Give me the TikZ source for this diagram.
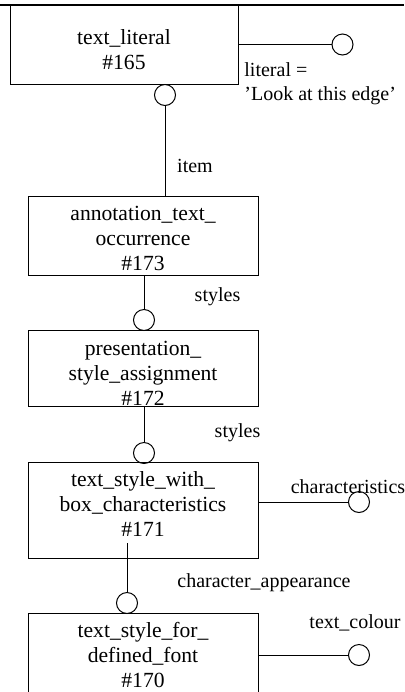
\documentclass[tikz,border=0pt]{standalone}
\usepackage{fontspec}
\setmainfont{Liberation Serif}
\usetikzlibrary{positioning}

\begin{document}
\begin{tikzpicture}[x=1pt,y=1pt,
  entity/.style={draw,line width=0.5pt,minimum width=115pt,inner ysep=0pt,align=center,font=\fontsize{10.8}{12.4}\selectfont},
  ring/.style={draw,line width=0.5pt,circle,minimum size=10.5pt,inner sep=0pt},
  role/.style={font=\fontsize{10}{12}\selectfont,inner sep=0pt},
  link/.style={line width=0.5pt}]
\useasboundingbox (0,0) rectangle (202,-346);
\draw[line width=0.8pt] (0,-2.5) -- (202,-2.5);
\node[entity,minimum width=114pt,minimum height=39.5pt,text height=24.8pt,text depth=0pt] (lit) at (62,-22.25) {text\_literal\\\#165};
\node[entity,minimum height=39.5pt,text height=34.8pt,text depth=0pt] (aot) at (71.5,-117.75) {annotation\_text\_\\occurrence\\\#173};
\node[entity,minimum height=38pt,text height=37.3pt,text depth=0pt] (psa) at (71.5,-184) {presentation\_\\style\_assignment\\\#172};
\node[entity,minimum height=48pt,text height=32.4pt,text depth=6pt] (tsw) at (71.5,-255) {text\_style\_with\_\\box\_characteristics\\\#171};
\node[entity,minimum height=48.5pt,text height=32.4pt,text depth=6.6pt] (tsf) at (71.5,-330.75) {text\_style\_for\_\\defined\_font\\\#170};
% rings
\node[ring,right=46.5pt of lit] (litR) {};
\node[ring] (litB) at (82.5,-47.5) {};
\node[ring] (psaT) at (72,-160) {};
\node[ring] (tswT) at (72,-226.5) {};
\node[ring] (tswR) at (179.5,-251) {};
\node[ring] (tsfT) at (63.5,-301.5) {};
\node[ring] (tsfR) at (179.5,-327.5) {};
\coordinate (tswA) at (63.5,-271.5);
% links
\draw[link] (lit) -- (litR);
\draw[link] (litB) -- (litB |- aot.north);
\draw[link] (aot.south -| psaT) -- (psaT);
\draw[link] (psa.south -| tswT) -- (tswT);
\draw[link] (tsw.east |- tswR) -- (tswR);
\draw[link] (tswA) -- (tsfT);
\draw[link] (tsf.east |- tsfR) -- (tsfR);
% labels
\node[role,anchor=north west,align=left] (litL) at (122,-31) {literal =\\'Look at this edge'};
\node[role] (itemL) at (97.5,-83) {item};
\node[role] (stylesA) at (108.75,-148.5) {styles};
\node[role] (stylesB) at (118.75,-216.5) {styles};
\node[role] (charL) at (174,-243.5) {characteristics};
\node[role] (appL) at (132,-291.5) {character\_appearance};
\node[role] (colL) at (177.5,-311.5) {text\_colour};
\end{tikzpicture}
\end{document}
